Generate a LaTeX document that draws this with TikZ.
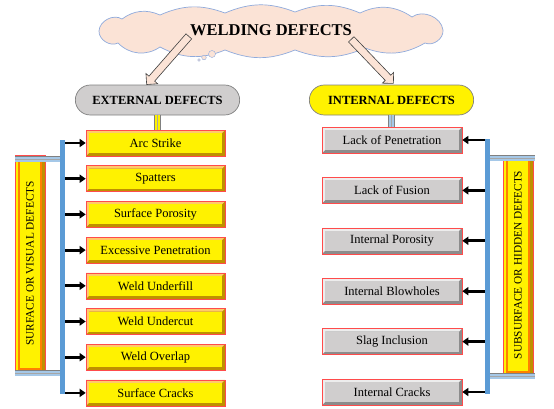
\documentclass[tikz,border=0pt]{standalone}
\usepackage{fontspec}
\setmainfont{Liberation Serif}
\usetikzlibrary{shapes, shapes.arrows, shapes.misc, arrows.meta, positioning, calc}

\definecolor{peach}{HTML}{FBE3D6}
\definecolor{cloudline}{HTML}{8FAADC}
\definecolor{busblue}{HTML}{5B9BD5}
\definecolor{boxred}{HTML}{FF4B4B}
\definecolor{goldlight}{HTML}{FFC96B}
\definecolor{golddark}{HTML}{BF9000}
\definecolor{greymain}{HTML}{D0CECE}
\definecolor{greylight}{HTML}{EDEDED}
\definecolor{greydark}{HTML}{8C8C8C}

\newcommand{\bevelfill}[3]{%
	\fill[#1] (path picture bounding box.south west) rectangle (path picture bounding box.north east);
	\fill[#2] (path picture bounding box.south west) -- (path picture bounding box.north west) -- (path picture bounding box.north east)
		-- ([shift={(-3pt,-3pt)}]path picture bounding box.north east) -- ([shift={(3pt,-3pt)}]path picture bounding box.north west)
		-- ([shift={(3pt,3pt)}]path picture bounding box.south west) -- cycle;
	\fill[#3] ([shift={(3pt,3pt)}]path picture bounding box.south west) rectangle ([shift={(-3pt,-3pt)}]path picture bounding box.north east);
}

\tikzset{
	bevelbox/.style={minimum width=139pt, minimum height=26pt, inner sep=0pt, draw=boxred, line width=0.6pt, font=\fontsize{12.5}{14}\selectfont},
	extbox/.style={bevelbox, path picture={\bevelfill{golddark}{goldlight}{yellow}}},
	intbox/.style={bevelbox, minimum width=140pt, path picture={\bevelfill{greydark}{greylight}{greymain}}},
	sidebox/.style={minimum width=30pt, minimum height=#1, inner sep=0pt, draw=boxred, fill=yellow, font=\fontsize{11.3}{13}\selectfont,
		path picture={\draw[orange, line width=1.2pt] ([shift={(4pt,3pt)}]path picture bounding box.south west) rectangle ([shift={(-4pt,-3pt)}]path picture bounding box.north east);
			\fill[golddark] ([shift={(-3pt,0pt)}]path picture bounding box.south east) rectangle (path picture bounding box.north east);}},
	oval/.style={rounded rectangle, minimum width=171pt, minimum height=30pt, draw=gray, line width=0.7pt, font=\bfseries\fontsize{12.5}{14}\selectfont},
	bigarrow/.style={single arrow, draw=black!75, fill=peach, line width=0.6pt, minimum height=#1, inner xsep=0pt, inner ysep=3.5pt,
		single arrow head extend=4pt, single arrow head indent=0pt},
	stub/.style={draw=#1, line width=5pt, preaction={draw=gray, line width=6.5pt}, postaction={draw=gray!70, line width=0.8pt}},
	bus/.style={draw=busblue, line width=5pt},
	barrow/.style={-{Triangle[length=6pt,width=8pt]}, line width=2.8pt, black},
}

\begin{document}
\begin{tikzpicture}[x=1pt, y=-1pt]
	\useasboundingbox (0,0) rectangle (554,408);
	% title cloud
	\draw[cloudline, fill=peach, line width=0.7pt] (99,31) to[bend left=60] (122,19) to[bend left=30] (160,15) to[bend left=22] (225,13)
		to[bend left=22] (295,12) to[bend left=22] (360,13) to[bend left=30] (412,17) to[bend left=60] (443,30)
		to[bend left=60] (425,43) to[bend left=25] (365,48) to[bend left=22] (295,50) to[bend left=22] (225,50)
		to[bend left=25] (160,47) to[bend left=40] (118,43) to[bend left=60] cycle;
	\draw[cloudline, fill=peach] (212,54) circle (3.5) (204,57.5) circle (2.3) (199,60) circle (1.4);
	\node[font=\bfseries\fontsize{16.5}{19}\selectfont] (title) at (271,30) {WELDING DEFECTS};
	\node[oval, fill=greymain] (ext) at (157.5,100) {EXTERNAL DEFECTS};
	\node[oval, fill=yellow] (int) at (391.5,100) {INTERNAL DEFECTS};
	\node[bigarrow=64pt, rotate=228.8] (la) at (169,59) {};
	\node[bigarrow=61pt, rotate=-46.3] (ra) at (371,60) {};

	% external side
	\foreach \t [count=\n] in {Arc Strike, Spatters, Surface Porosity, Excessive Penetration, Weld Underfill, Weld Undercut, Weld Overlap, Surface Cracks}
		\node[extbox] (e\n) at (155.5, {107.3+35.7*\n}) {\t};
	\node[sidebox=217pt] (vis) at (30,263.5) {\rotatebox{90}{SURFACE OR VISUAL DEFECTS}};
	\coordinate (lbt) at (62.5,140);
	\coordinate (lbb) at (62.5,394);
	\coordinate (lb) at (65,0);
	\draw[stub=yellow] (ext.south) -- (ext.south |- e1.north);
	\draw[stub=busblue!55] (vis.north west |- 0,159) -- (lbt |- 0,159);
	\draw[stub=busblue!55] (vis.south west |- 0,373) -- (lbt |- 0,373);
	\draw[bus] (lbt) -- (lbb);
	\foreach \n in {1,...,8}
		\draw[barrow] (lb |- e\n) -- (e\n.west);

	% internal side
	\foreach \t [count=\n] in {Lack of Penetration, Lack of Fusion, Internal Porosity, Internal Blowholes, Slag Inclusion, Internal Cracks}
		\node[intbox] (i\n) at (392, {89.6+50.4*\n}) {\t};
	\node[sidebox=220pt] (hid) at (518,265) {\rotatebox{90}{SUBSURFACE OR HIDDEN DEFECTS}};
	\coordinate (rbt) at (487,139);
	\coordinate (rbb) at (487,394);
	\coordinate (rb) at (484.5,0);
	\draw[stub=busblue!55] (int.south) -- (int.south |- i1.north);
	\draw[stub=busblue!55] (rbt |- 0,158) -- (535,158);
	\draw[stub=busblue!55] (rbt |- 0,376) -- (535,376);
	\draw[bus] (rbt) -- (rbb);
	\foreach \n in {1,...,6}
		\draw[barrow] (rb |- i\n) -- (i\n.east);
\end{tikzpicture}
\end{document}
